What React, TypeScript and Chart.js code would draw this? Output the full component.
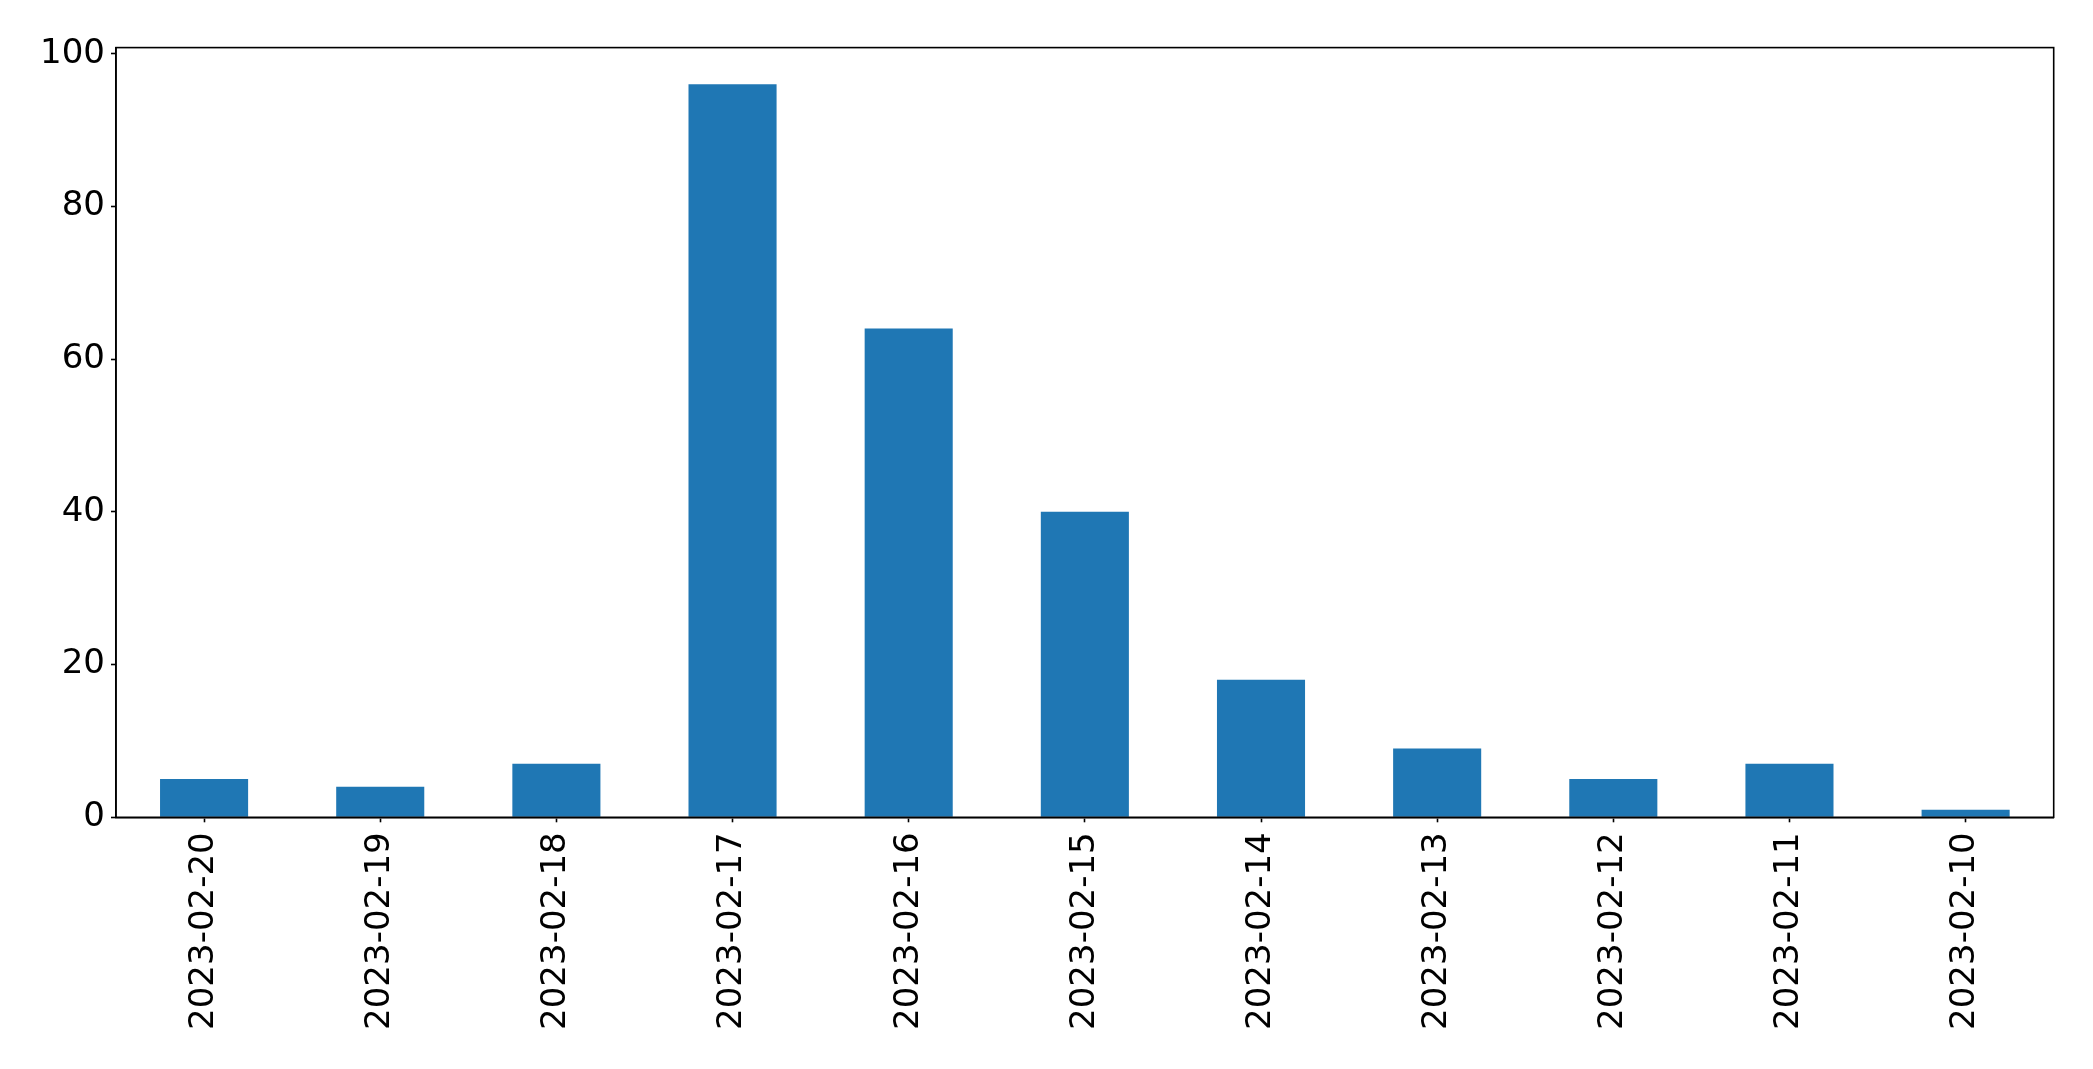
import React, { useEffect, useRef } from "react";
import { Chart, registerables } from "chart.js";

Chart.register(...registerables);

const categories = [
  "2023-02-20", "2023-02-19", "2023-02-18", "2023-02-17", "2023-02-16", "2023-02-15",
  "2023-02-14", "2023-02-13", "2023-02-12", "2023-02-11", "2023-02-10",
];
const counts = [5, 4, 7, 96, 64, 40, 18, 9, 5, 7, 1];
const yTicks = [0, 20, 40, 60, 80, 100];

const FONT = "'DejaVu Sans', sans-serif";

const framePlugin = {
  id: "frame",
  afterDraw(chart: any) {
    const { ctx, chartArea } = chart;
    ctx.save();
    ctx.strokeStyle = "#000";
    ctx.lineWidth = 1.6;
    ctx.strokeRect(chartArea.left, chartArea.top, chartArea.right - chartArea.left, chartArea.bottom - chartArea.top);
    ctx.restore();
  },
};

export default function App() {
  const ref = useRef<HTMLCanvasElement | null>(null);
  useEffect(() => {
    if (!ref.current) return;
    const chart = new Chart(ref.current, {
      type: "bar",
      data: {
        labels: categories,
        datasets: [
          {
            data: counts,
            backgroundColor: "#1f77b4",
            borderWidth: 0,
            categoryPercentage: 1,
            barPercentage: 0.5,
          },
        ],
      },
      options: {
        animation: false,
        responsive: true,
        maintainAspectRatio: false,
        layout: { padding: { left: 0, top: 47.6, right: 39.3, bottom: 0 } },
        plugins: { legend: { display: false }, tooltip: { enabled: false } },
        scales: {
          x: {
            offset: true,
            grid: { display: true, offset: false, drawOnChartArea: false, drawTicks: true, tickLength: 5, tickColor: "#000", tickWidth: 1.6 },
            border: { display: true, color: "#000", width: 1.6 },
            ticks: { color: "#000", font: { family: FONT, size: 34 }, minRotation: 90, maxRotation: 90, padding: 10, autoSkip: false },
            afterFit(scale: any) {
              scale.height = 1069 - 817.3;
            },
          },
          y: {
            min: 0,
            max: 100.8,
            grid: { display: true, drawOnChartArea: false, drawTicks: true, tickLength: 5, tickColor: "#000", tickWidth: 1.6 },
            border: { display: true, color: "#000", width: 1.6 },
            ticks: { color: "#000", font: { family: FONT, size: 34 }, padding: 6 },
            afterBuildTicks(scale: any) {
              scale.ticks = yTicks.map((v) => ({ value: v }));
            },
            afterFit(scale: any) {
              scale.width = 116;
            },
          },
        },
      },
      plugins: [framePlugin],
    });
    return () => chart.destroy();
  }, []);
  return (
    <div style={{ position: "absolute", left: 0, top: 0, width: 2093, height: 1069, background: "#fff" }}>
      <canvas ref={ref} />
    </div>
  );
}
